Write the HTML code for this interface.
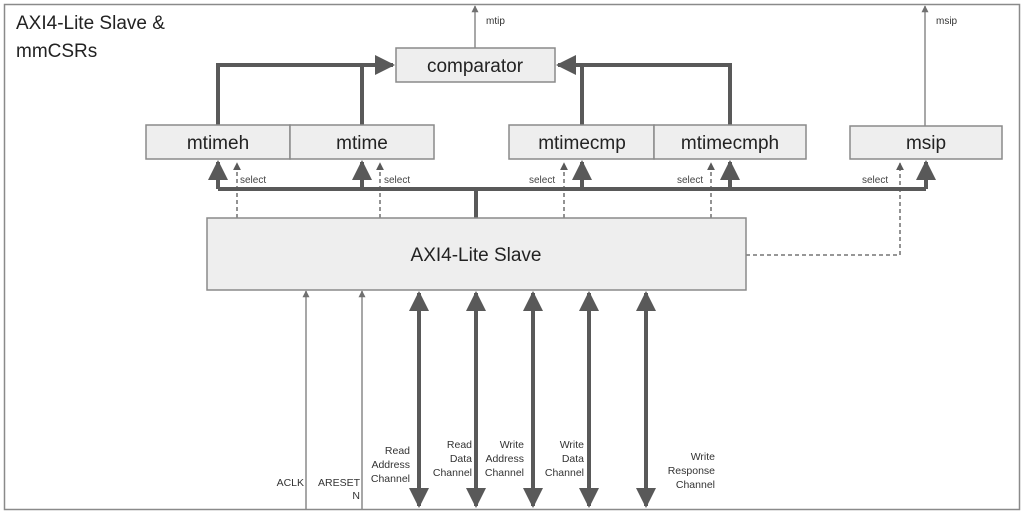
<!DOCTYPE html>
<html><head><meta charset="utf-8"><style>
html,body{margin:0;padding:0;background:#fff;}
svg{display:block;font-family:"Liberation Sans",Arial,sans-serif;}
</style></head><body>
<svg width="1025" height="516" viewBox="0 0 1025 516" xmlns="http://www.w3.org/2000/svg">
<defs>
<marker id="big" viewBox="0 0 10 10" refX="9" refY="5" markerWidth="5" markerHeight="5" orient="auto-start-reverse" markerUnits="strokeWidth"><path d="M0,0 L10,5 L0,10 z" fill="#595959"/></marker>
<marker id="sm" viewBox="0 0 10 10" refX="9" refY="5" markerWidth="7" markerHeight="7" orient="auto" markerUnits="userSpaceOnUse"><path d="M0,0 L10,5 L0,10 z" fill="#707070"/></marker>
<marker id="ds" viewBox="0 0 10 10" refX="9" refY="5" markerWidth="8" markerHeight="8" orient="auto" markerUnits="userSpaceOnUse"><path d="M0,0 L10,5 L0,10 z" fill="#595959"/></marker>
</defs>
<rect x="4.5" y="4.5" width="1015" height="505" fill="#fff" stroke="#8a8a8a" stroke-width="1.5"/>
<text x="16" y="29" font-size="19" fill="#222">AXI4-Lite Slave &amp;</text>
<text x="16" y="57" font-size="19" fill="#222">mmCSRs</text>

<g stroke="#8a8a8a" stroke-width="1.5" fill="none">
<line x1="475" y1="48" x2="475" y2="6" marker-end="url(#sm)"/>
<line x1="925" y1="126" x2="925" y2="6" marker-end="url(#sm)"/>
<line x1="306" y1="510" x2="306" y2="291" marker-end="url(#sm)"/>
<line x1="362" y1="510" x2="362" y2="291" marker-end="url(#sm)"/>
</g>
<text x="486" y="24" font-size="10" fill="#333">mtip</text>
<text x="936" y="24" font-size="10" fill="#333">msip</text>

<g stroke="#595959" stroke-width="4" fill="none">
<polyline points="218,125 218,65 393,65" marker-end="url(#big)"/>
<line x1="362" y1="125" x2="362" y2="65"/>
<polyline points="730,125 730,65 558,65" marker-end="url(#big)"/>
<line x1="582" y1="125" x2="582" y2="65"/>
<polyline points="218,189 926,189" />
<line x1="476" y1="218" x2="476" y2="189"/>
<line x1="218" y1="189" x2="218" y2="162" marker-end="url(#big)"/>
<line x1="362" y1="189" x2="362" y2="162" marker-end="url(#big)"/>
<line x1="582" y1="189" x2="582" y2="162" marker-end="url(#big)"/>
<line x1="730" y1="189" x2="730" y2="162" marker-end="url(#big)"/>
<line x1="926" y1="189" x2="926" y2="162" marker-end="url(#big)"/>
<line x1="419" y1="293" x2="419" y2="506" marker-start="url(#big)" marker-end="url(#big)"/>
<line x1="476" y1="293" x2="476" y2="506" marker-start="url(#big)" marker-end="url(#big)"/>
<line x1="533" y1="293" x2="533" y2="506" marker-start="url(#big)" marker-end="url(#big)"/>
<line x1="589" y1="293" x2="589" y2="506" marker-start="url(#big)" marker-end="url(#big)"/>
<line x1="646" y1="293" x2="646" y2="506" marker-start="url(#big)" marker-end="url(#big)"/>
</g>

<g stroke="#595959" stroke-width="1.3" fill="none" stroke-dasharray="4,3">
<line x1="237" y1="218" x2="237" y2="163" marker-end="url(#ds)"/>
<line x1="380" y1="218" x2="380" y2="163" marker-end="url(#ds)"/>
<line x1="564" y1="218" x2="564" y2="163" marker-end="url(#ds)"/>
<line x1="711" y1="218" x2="711" y2="163" marker-end="url(#ds)"/>
<polyline points="746,255 900,255 900,163" marker-end="url(#ds)"/>
</g>
<g font-size="10" fill="#444">
<text x="240" y="183">select</text>
<text x="384" y="183">select</text>
<text x="529" y="183">select</text>
<text x="677" y="183">select</text>
<text x="862" y="183">select</text>
</g>

<g fill="#eeeeee" stroke="#8a8a8a" stroke-width="1.5">
<rect x="396" y="48" width="159" height="34"/>
<rect x="146" y="125" width="144" height="34"/>
<rect x="290" y="125" width="144" height="34"/>
<rect x="509" y="125" width="145" height="34"/>
<rect x="654" y="125" width="152" height="34"/>
<rect x="850" y="126" width="152" height="33"/>
<rect x="207" y="218" width="539" height="72"/>
</g>
<g font-size="19" fill="#222" text-anchor="middle">
<text x="475" y="72">comparator</text>
<text x="218" y="149">mtimeh</text>
<text x="362" y="149">mtime</text>
<text x="582" y="149">mtimecmp</text>
<text x="730" y="149">mtimecmph</text>
<text x="926" y="149">msip</text>
<text x="476" y="261">AXI4-Lite Slave</text>
</g>
<g font-size="10.5" fill="#333" text-anchor="end">
<text x="304" y="486">ACLK</text>
<text x="360" y="486">ARESET</text><text x="360" y="499">N</text>
<text x="410" y="454">Read</text><text x="410" y="468">Address</text><text x="410" y="482">Channel</text>
<text x="472" y="448">Read</text><text x="472" y="462">Data</text><text x="472" y="476">Channel</text>
<text x="524" y="448">Write</text><text x="524" y="462">Address</text><text x="524" y="476">Channel</text>
<text x="584" y="448">Write</text><text x="584" y="462">Data</text><text x="584" y="476">Channel</text>
<text x="715" y="460">Write</text><text x="715" y="474">Response</text><text x="715" y="488">Channel</text>
</g>
</svg>
</body></html>
